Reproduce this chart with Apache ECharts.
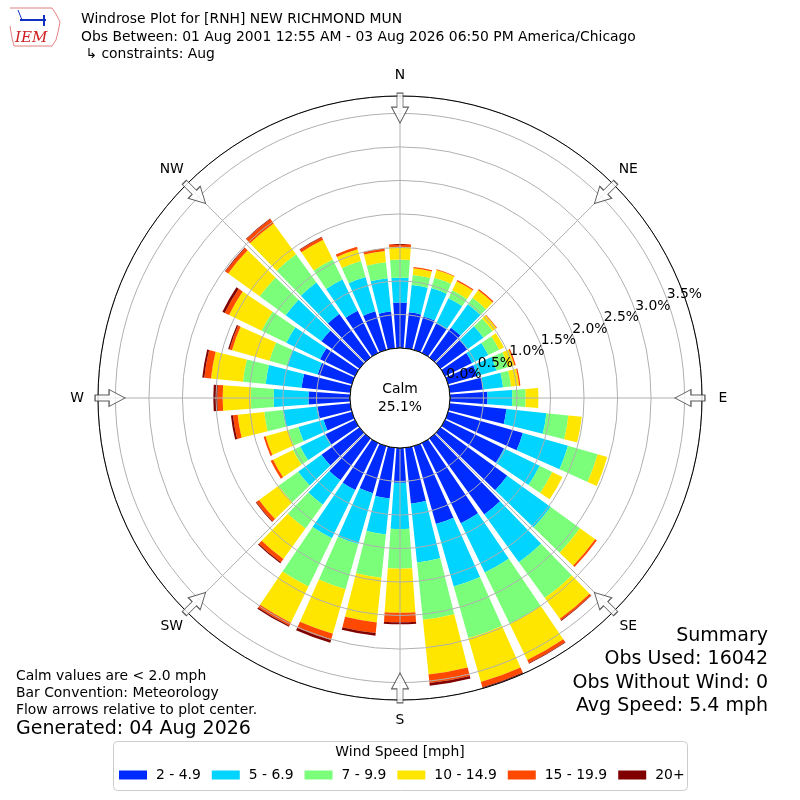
<!DOCTYPE html>
<html>
<head>
<meta charset="utf-8">
<title>Windrose RNH</title>
<script src="https://cdn.jsdelivr.net/npm/echarts@6/dist/echarts.min.js"></script>
<style>
  html, body { margin: 0; padding: 0; background: #fff; }
  #chart { width: 800px; height: 800px; }
</style>
</head>
<body>
<div id="chart"></div>
<script>
/*
 * windrose RNH, Aug
 */
// direction bins (degrees, met convention, 10 deg)
var dirs = ['0','10','20','30','40','50','60','70','80','90','100','110','120','130','140','150','160','170',
            '180','190','200','210','220','230','240','250','260','270','280','290','300','310','320','330','340','350'];

// percent of obs per speed bin and direction
var spd2_49   = [0.68,0.54,0.52,0.49,0.55,0.49,0.45,0.45,0.50,0.56,0.85,1.16,0.98,1.23,1.40,1.33,1.21,0.84,
                 0.52,0.76,0.73,0.78,0.77,0.70,0.49,0.44,0.49,0.62,0.73,0.53,0.58,0.70,0.80,0.70,0.60,0.55];
var spd5_69   = [0.37,0.41,0.44,0.42,0.43,0.30,0.27,0.30,0.30,0.37,0.60,0.70,0.59,0.80,0.88,0.82,0.97,0.88,
                 0.69,0.54,0.79,0.80,0.45,0.43,0.42,0.39,0.52,0.52,0.54,0.48,0.56,0.66,0.58,0.52,0.53,0.50];
var spd7_99   = [0.27,0.15,0.16,0.13,0.12,0.17,0.18,0.18,0.12,0.20,0.33,0.46,0.21,0.54,0.66,0.85,0.80,0.86,
                 0.59,0.65,0.70,0.80,0.44,0.36,0.12,0.16,0.28,0.34,0.34,0.27,0.41,0.48,0.52,0.33,0.25,0.24];
var spd10_149 = [0.19,0.10,0.12,0.15,0.14,0.07,0.08,0.10,0.12,0.19,0.20,0.15,0.17,0.28,0.38,0.60,0.68,0.82,
                 0.66,0.67,0.69,0.60,0.56,0.36,0.33,0.35,0.40,0.42,0.48,0.58,0.54,0.58,0.57,0.33,0.18,0.17];
var spd15_199 = [0.04,0.02,0.01,0.02,0.02,0.01,0.00,0.02,0.02,0.00,0.00,0.00,0.00,0.03,0.03,0.05,0.08,0.13,
                 0.14,0.16,0.10,0.05,0.06,0.05,0.04,0.03,0.07,0.08,0.10,0.04,0.07,0.05,0.08,0.04,0.04,0.04];
var spd20p    = [0.00,0.00,0.00,0.00,0.00,0.00,0.00,0.00,0.00,0.00,0.00,0.00,0.00,0.00,0.01,0.01,0.02,0.04,
                 0.03,0.04,0.04,0.02,0.02,0.01,0.00,0.00,0.03,0.06,0.03,0.02,0.04,0.01,0.01,0.01,0.00,0.00];

var binNames  = ['2 - 4.9','5 - 6.9','7 - 9.9','10 - 14.9','15 - 19.9','20+'];
var binColors = ['#002bff','#00d4ff','#7bff7b','#ffe600','#ff4900','#800000'];

var compass   = ['N','NE','E','SE','S','SW','W','NW'];
var arrowDirs = [0,45,90,135,180,225,270,315];

var calmPct = 25.1;
var rMax = 3.76;          // outer ring = longest bar
var FONT = 'DejaVu Sans';
var FS = 13.9;            // 10pt @ 100dpi
var FS_BIG = 19;

var chart = echarts.init(document.getElementById('chart'), null, {renderer: 'canvas'});

var bins = [spd2_49, spd5_69, spd7_99, spd10_149, spd15_199, spd20p];
var series = [];
bins.forEach(function(vals, i){
	series.push({
		name: binNames[i],
		type: 'bar',
		coordinateSystem: 'polar',
		polarIndex: 0,
		stack: 'wind',
		barCategoryGap: '18%',
		itemStyle: {color: binColors[i]},
		silent: true,
		z: 2,
		data: vals
	});
});

// flow arrows on the rim
var arrowPath = 'path://M0,0 L8.5,16 L3,16 L3,30 L-3,30 L-3,16 L-8.5,16 Z';
series.push({
	type: 'scatter',
	coordinateSystem: 'polar',
	polarIndex: 1,
	clip: false,
	symbol: arrowPath,
	symbolSize: [17, 30],
	silent: true,
	z: 6,
	itemStyle: {color: '#fff', borderColor: '#333', borderWidth: 1},
	data: arrowDirs.map(function(a){
		return {value: [3.58, a], symbolRotate: 180 - a};
	})
});
// compass names, centered just outside the rim
series.push({
	type: 'scatter',
	coordinateSystem: 'polar',
	polarIndex: 1,
	clip: false,
	symbol: 'circle',
	symbolSize: 1,
	itemStyle: {color: 'rgba(0,0,0,0)'},
	silent: true,
	z: 6,
	label: {show: true, position: 'inside', formatter: '{b}', opacity: 1,
	        color: '#000', fontFamily: FONT, fontSize: FS},
	data: arrowDirs.map(function(a, i){
		return {name: compass[i], value: [4.07, a]};
	})
});

// calm circle in the middle
series.push({
	type: 'pie',
	center: [400, 398],
	radius: [0, 50],
	silent: true,
	z: 10,
	itemStyle: {color: '#fff', borderColor: '#000', borderWidth: 1},
	label: {
		position: 'center',
		formatter: 'Calm\n' + calmPct.toFixed(1) + '%',
		fontFamily: FONT, fontSize: FS, lineHeight: 18, color: '#000'
	},
	labelLine: {show: false},
	data: [{value: 1, name: 'Calm'}]
});

var txt = function(x, y, s, size, align){
	return {type: 'text', x: x, y: y, z: 20,
		style: {text: s, fill: '#000', font: size + 'px "DejaVu Sans"', align: align || 'left', verticalAlign: 'middle'}};
};

// % labels: the zero label lives on its own axis so the overlap check does not drop it
var pctLabel = function(onlyZero){
	return function(v){
		var isTick = Math.abs(v * 2 - Math.round(v * 2)) < 1e-6;
		if (!isTick) return '';
		if (onlyZero ? v !== 0 : v === 0) return '';
		return v.toFixed(1) + '%';
	};
};
var labelRadius = function(idx, onlyZero){
	return {
		polarIndex: idx, min: 0, max: rMax, interval: 0.5, z: 7,
		axisLine: {show: false}, axisTick: {show: false}, splitLine: {show: false},
		axisLabel: {
			margin: 0, align: 'center', verticalAlign: 'middle',
			color: '#000', fontSize: FS, fontFamily: FONT,
			formatter: pctLabel(onlyZero)
		}
	};
};

var option = {
	animation: false,
	textStyle: {fontFamily: FONT},
	polar: [
		{center: [400, 398], radius: [50, 302]},
		{center: [400, 398], radius: [50, 302]},
		{center: [400, 398], radius: [68, 320]},
		{center: [400, 398], radius: [68, 320]}
	],
	angleAxis: [
		{   // bars
			polarIndex: 0, type: 'category', data: dirs,
			startAngle: 95, clockwise: true,
			axisLine: {show: false}, axisTick: {show: false},
			axisLabel: {show: false}, splitLine: {show: false}
		},
		{   // grid spokes + outer circle
			polarIndex: 1, type: 'value', min: 0, max: 360, interval: 45,
			startAngle: 90, clockwise: true, z: 5,
			axisLine: {lineStyle: {color: '#000', width: 1}},
			axisTick: {show: false},
			axisLabel: {show: false},
			splitLine: {show: true, lineStyle: {color: '#b0b0b0', width: 1}}
		},
		{polarIndex: 2, type: 'value', min: 0, max: 360, startAngle: 20, clockwise: true, show: false},
		{polarIndex: 3, type: 'value', min: 0, max: 360, startAngle: 20, clockwise: true, show: false}
	],
	radiusAxis: [
		{polarIndex: 0, min: 0, max: rMax, show: false},
		{
			polarIndex: 1, min: 0, max: rMax, interval: 0.5, z: 5,
			axisLine: {show: false}, axisTick: {show: false}, axisLabel: {show: false},
			splitLine: {show: true, lineStyle: {color: '#b0b0b0', width: 1}}
		},
		labelRadius(2, false),
		labelRadius(3, true)
	],
	legend: {
		data: binNames,
		left: 119, top: 768, padding: 0,
		icon: 'rect', itemWidth: 28, itemHeight: 9, itemGap: 11,
		selectedMode: false,
		textStyle: {fontFamily: FONT, fontSize: FS, color: '#000', padding: [0, 0, 0, 4]}
	},
	graphic: [
		// IEM logo (rough)
		{type: 'polyline', shape: {points: [[10,8],[52,8],[56,14],[60,22],[58,32],[56,40],[52,46],[14,46],[12,38],[10,26]]},
		 style: {stroke: '#e08080', fill: 'none', lineWidth: 1}},
		{type: 'text', x: 15, y: 31, style: {text: 'IEM', fill: '#d02020', font: 'italic 15px "DejaVu Serif"'}},
		{type: 'line', shape: {x1: 20, y1: 20, x2: 46, y2: 20}, style: {stroke: '#1030c0', lineWidth: 2}},
		{type: 'line', shape: {x1: 44, y1: 15, x2: 44, y2: 26}, style: {stroke: '#1030c0', lineWidth: 2}},
		{type: 'line', shape: {x1: 18, y1: 10, x2: 22, y2: 20}, style: {stroke: '#1030c0', lineWidth: 1}},
		// title
		txt(81, 19, 'Windrose Plot for [RNH] NEW RICHMOND MUN', FS),
		txt(81, 37, 'Obs Between: 01 Aug 2001 12:55 AM - 03 Aug 2026 06:50 PM America/Chicago', FS),
		txt(81, 54, ' \u21b3 constraints: Aug', FS),
		// notes bottom left
		txt(16, 676, 'Calm values are < 2.0 mph', FS),
		txt(16, 693, 'Bar Convention: Meteorology', FS),
		txt(16, 710, 'Flow arrows relative to plot center.', FS),
		txt(16, 729, 'Generated: 04 Aug 2026', FS_BIG),
		// summary bottom right
		txt(768, 636, 'Summary', FS_BIG, 'right'),
		txt(768, 659, 'Obs Used: 16042', FS_BIG, 'right'),
		txt(768, 683, 'Obs Without Wind: 0', FS_BIG, 'right'),
		txt(768, 706, 'Avg Speed: 5.4 mph', FS_BIG, 'right'),
		// legend frame + title
		{type: 'rect', shape: {x: 113.5, y: 741.5, width: 574, height: 49, r: 4}, style: {stroke: '#cccccc', fill: '#fff', lineWidth: 1}, z: -1},
		txt(400, 752, 'Wind Speed [mph]', FS, 'center')
	],
	series: series
};

chart.setOption(option);
</script>
</body>
</html>
